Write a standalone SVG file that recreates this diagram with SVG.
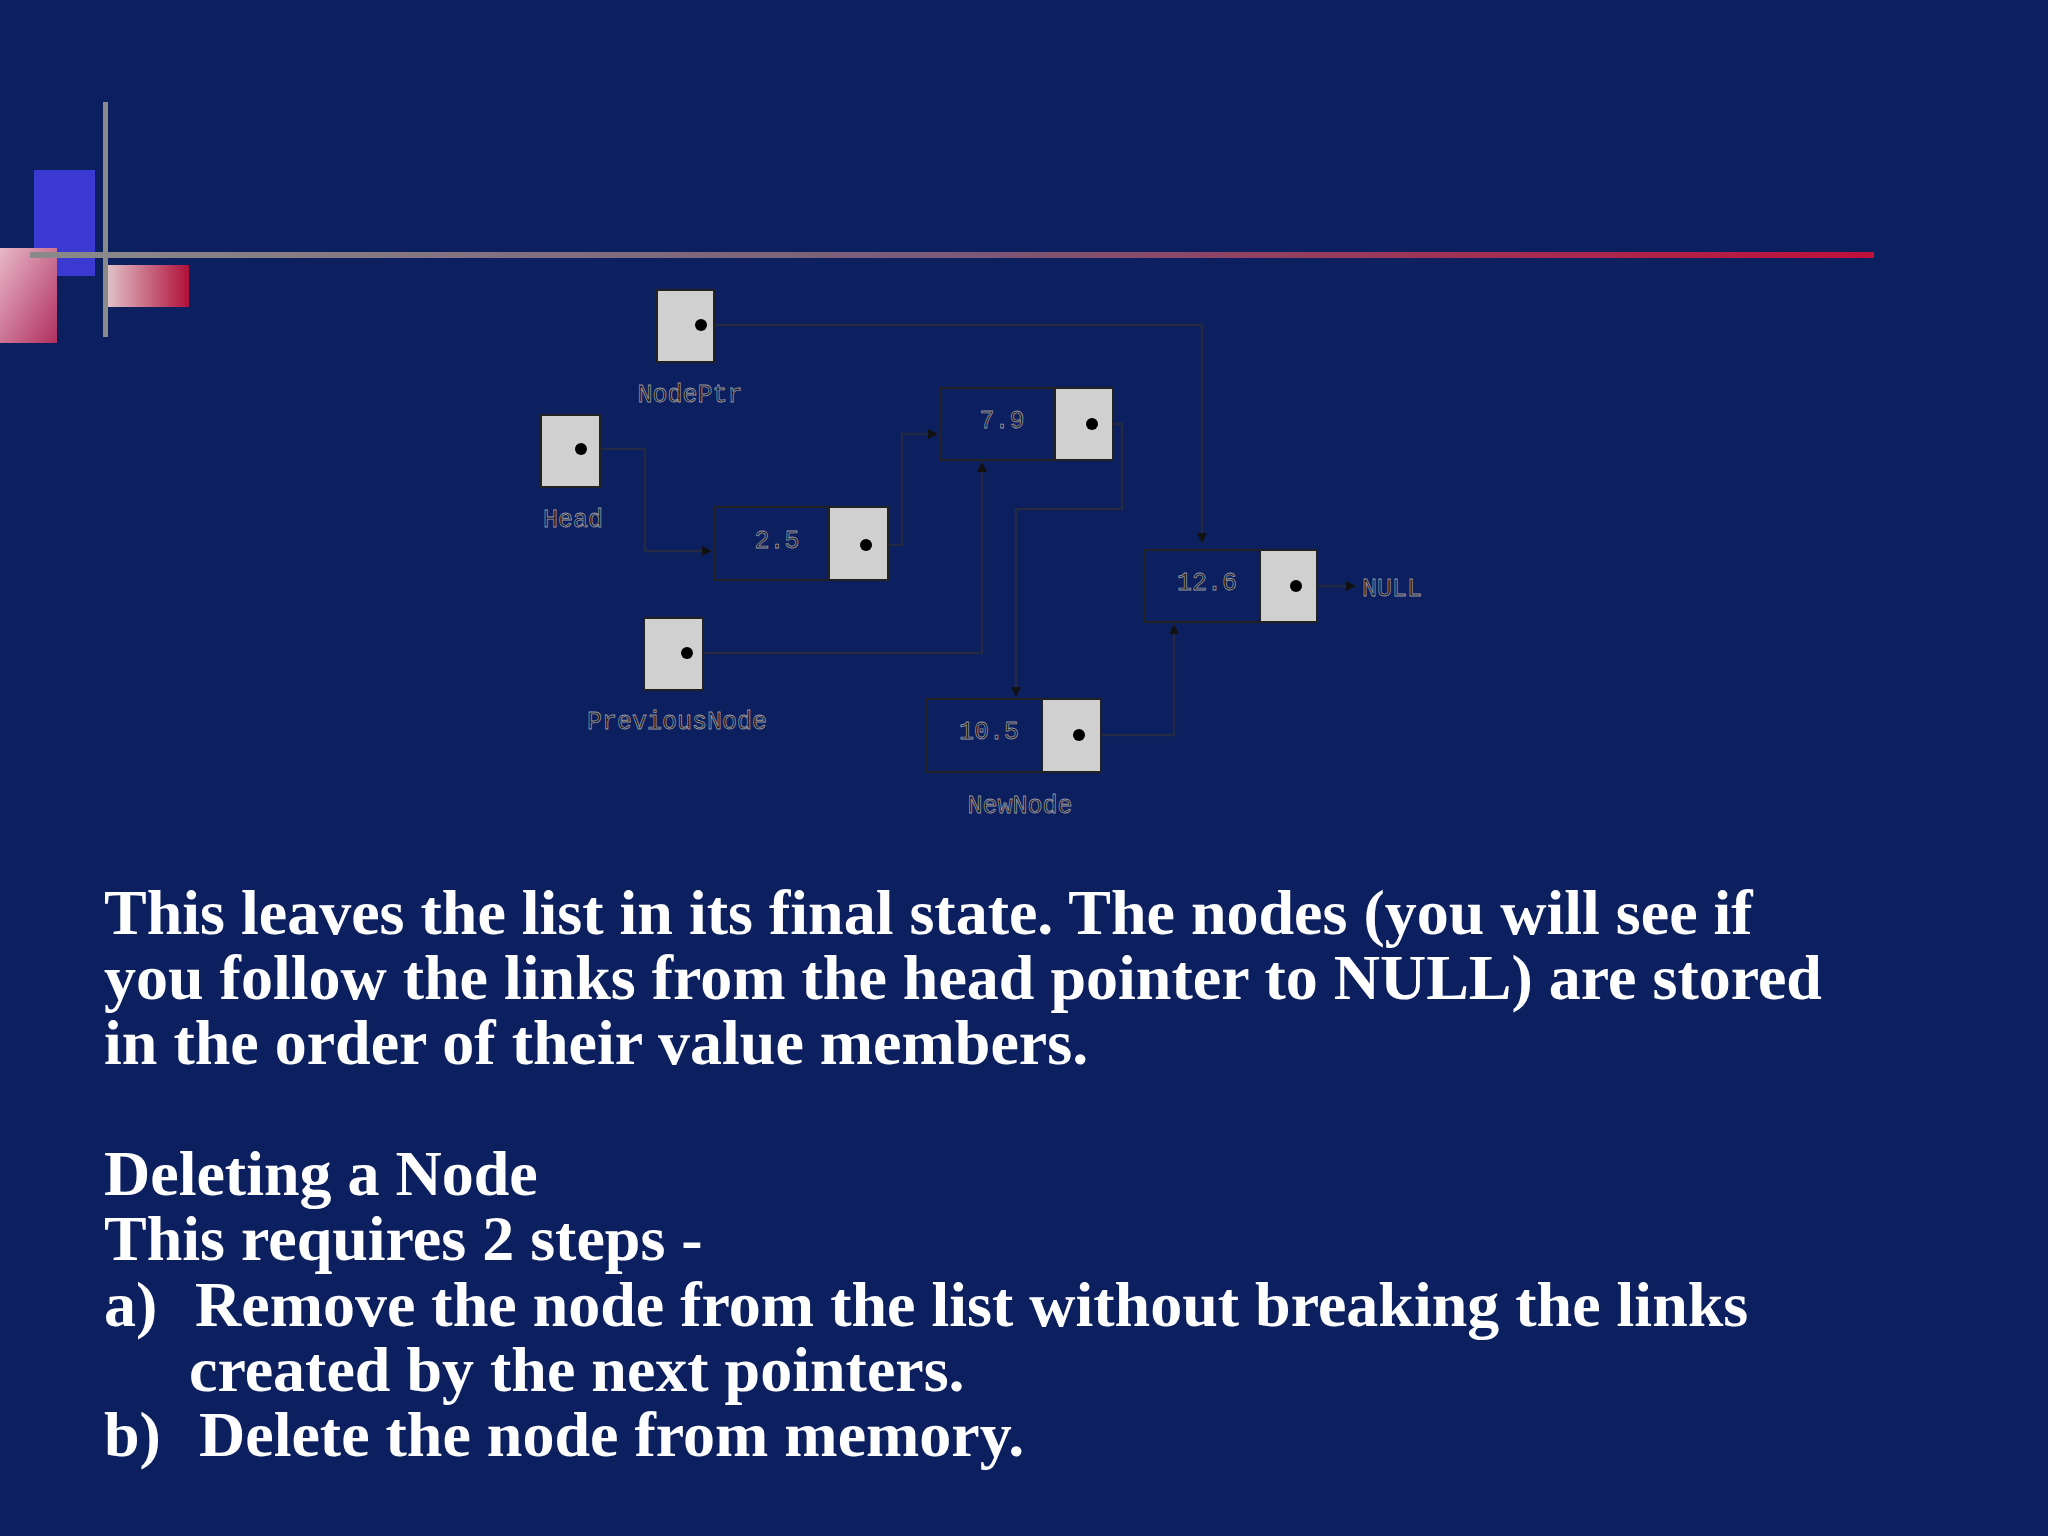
<svg xmlns="http://www.w3.org/2000/svg" width="2048" height="1536" viewBox="0 0 2048 1536">
<defs>
<linearGradient id="hl" x1="0" x2="1"><stop offset="0" stop-color="#8a8a8a"/><stop offset="0.5" stop-color="#7a5a78"/><stop offset="1" stop-color="#c0103a"/></linearGradient>
<linearGradient id="pk" x1="0" y1="0" x2="1" y2="1"><stop offset="0" stop-color="#e8b8c8"/><stop offset="1" stop-color="#b03060"/></linearGradient>
<linearGradient id="rd" x1="0" x2="1"><stop offset="0" stop-color="#e0c0c8"/><stop offset="1" stop-color="#b0103a"/></linearGradient>
<marker id="ar" viewBox="0 0 10 10" refX="10" refY="5" markerWidth="10" markerHeight="10" markerUnits="userSpaceOnUse" orient="auto"><path d="M0,0 L10,5 L0,10 z" fill="#111"/></marker>
<style>
.ptr{fill:#d0d0d0;stroke:#222;stroke-width:2}
.dat{fill:#0c1f5e;stroke:#222;stroke-width:2}
.dot{fill:#000}
.lbl{font-family:"Liberation Mono",monospace;font-size:25px;fill:#151515;stroke:#9a9aaa;stroke-width:0.8;text-anchor:middle}
.ln{fill:none;stroke:#222a44;stroke-width:2.5}
.ln2{fill:none;stroke:#7a80a0;stroke-width:1}
.t{font-family:"Liberation Serif",serif;font-weight:bold;font-size:64px;fill:#fff}
</style>
</defs>
<rect width="2048" height="1536" fill="#0c1f5e"/>
<rect x="34" y="170" width="61" height="106" fill="#3a3ad2"/>
<rect x="0" y="248" width="57" height="95" fill="url(#pk)"/>
<rect x="108" y="265" width="81" height="42" fill="url(#rd)"/>
<rect x="30" y="252" width="1844" height="6" fill="url(#hl)"/>
<rect x="103" y="102" width="5" height="235" fill="#8a8a8a"/>
<g id="connectors">
<path class="ln" d="M701,325 H1202 V543" marker-end="url(#ar)"/>
<path class="ln" d="M581,449 H645 V551 H712" marker-end="url(#ar)"/>
<path class="ln" d="M866,545 H902 V434 H938" marker-end="url(#ar)"/>
<path class="ln" d="M1092,424 H1122 V509 H1016 V697" marker-end="url(#ar)"/>
<path class="ln" d="M687,653 H982 V462" marker-end="url(#ar)"/>
<path class="ln" d="M1079,735 H1174 V624" marker-end="url(#ar)"/>
<path class="ln" d="M1296,586 H1356" marker-end="url(#ar)"/>
</g>
<g id="nodeptr"><rect class="ptr" x="657" y="290" width="57" height="72"/><circle class="dot" cx="701" cy="325" r="6"/><text class="lbl" x="690" y="402">NodePtr</text></g>
<g id="head"><rect class="ptr" x="541" y="415" width="59" height="72"/><circle class="dot" cx="581" cy="449" r="6"/><text class="lbl" x="573" y="527">Head</text></g>
<g id="n25"><rect class="dat" x="714" y="507" width="115" height="73"/><rect class="ptr" x="829" y="507" width="59" height="73"/><circle class="dot" cx="866" cy="545" r="6"/><text class="lbl" x="777" y="548">2.5</text></g>
<g id="n79"><rect class="dat" x="940" y="388" width="115" height="72"/><rect class="ptr" x="1055" y="388" width="58" height="72"/><circle class="dot" cx="1092" cy="424" r="6"/><text class="lbl" x="1002" y="428">7.9</text></g>
<g id="n126"><rect class="dat" x="1145" y="550" width="115" height="72"/><rect class="ptr" x="1260" y="550" width="57" height="72"/><circle class="dot" cx="1296" cy="586" r="6"/><text class="lbl" x="1207" y="590">12.6</text><text class="lbl" x="1392" y="596">NULL</text></g>
<g id="n105"><rect class="dat" x="927" y="699" width="115" height="73"/><rect class="ptr" x="1042" y="699" width="59" height="73"/><circle class="dot" cx="1079" cy="735" r="6"/><text class="lbl" x="989" y="739">10.5</text><text class="lbl" x="1020" y="813">NewNode</text></g>
<g id="prevnode"><rect class="ptr" x="644" y="618" width="59" height="72"/><circle class="dot" cx="687" cy="653" r="6"/><text class="lbl" x="677" y="729">PreviousNode</text></g>
<g id="text">
<text class="t" x="104" y="934">This leaves the list in its final state. The nodes (you will see if</text>
<text class="t" x="104" y="999">you follow the links from the head pointer to NULL) are stored</text>
<text class="t" x="104" y="1064">in the order of their value members.</text>
<text class="t" x="104" y="1195">Deleting a Node</text>
<text class="t" x="104" y="1260">This requires 2 steps -</text>
<text class="t" x="104" y="1326">a)</text><text class="t" x="195" y="1326">Remove the node from the list without breaking the links</text>
<text class="t" x="189" y="1391">created by the next pointers.</text>
<text class="t" x="104" y="1456">b)</text><text class="t" x="199" y="1456">Delete the node from memory.</text>
</g>
</svg>
